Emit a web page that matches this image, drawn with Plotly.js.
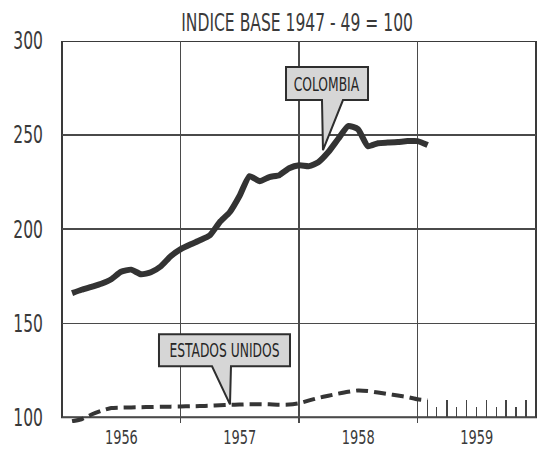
<!DOCTYPE html>
<html>
<head>
<meta charset="utf-8">
<script src="https://cdn.plot.ly/plotly-3.0.1.min.js"></script>
<style>html,body{margin:0;padding:0;background:#fff;}#chart{width:540px;height:452px;}</style>
</head>
<body>
<div id="chart"></div>
<script>
// Monthly observations (first of month), Feb 1956 - Feb 1959
const months = [
  '1956-02-01','1956-03-01','1956-04-01','1956-05-01','1956-06-01','1956-07-01','1956-08-01','1956-09-01','1956-10-01','1956-11-01','1956-12-01',
  '1957-01-01','1957-02-01','1957-03-01','1957-04-01','1957-05-01','1957-06-01','1957-07-01','1957-08-01','1957-09-01','1957-10-01','1957-11-01','1957-12-01',
  '1958-01-01','1958-02-01','1958-03-01','1958-04-01','1958-05-01','1958-06-01','1958-07-01','1958-08-01','1958-09-01','1958-10-01','1958-11-01','1958-12-01',
  '1959-01-01','1959-02-01'
];
const colombia = [166.0,167.8,169.4,171.0,173.4,177.4,178.5,176.0,177.1,180.3,185.6,
  189.4,192.0,194.1,196.8,203.7,209.0,217.6,228.2,225.5,227.7,228.7,232.4,
  234.0,233.5,235.6,241.0,247.9,254.8,253.2,244.1,245.7,246.0,246.3,246.8,
  246.8,244.7];
const estadosUnidos = [97.9,99.0,101.5,103.5,105.0,105.2,105.3,105.4,105.5,105.6,105.7,
  105.8,105.9,106.0,106.2,106.4,106.6,106.8,107.0,107.0,106.9,106.7,106.8,
  107.5,109.0,110.3,111.5,112.6,113.6,114.3,114.0,113.2,112.4,111.6,110.8,
  109.6,109.0];
const seriesNames = ['COLOMBIA','ESTADOS UNIDOS'];
const yearStarts = ['1956-01-01','1957-01-01','1958-01-01','1959-01-01','1960-01-01'];
const yearMids = ['1956-07-02','1957-07-02','1958-07-02','1959-07-02'];
const yearLabels = ['1956','1957','1958','1959'];
const yTicks = [100,150,200,250,300];
const yTickLabels = ['100','150','200','250','300'];
const ticks1959Long = ['1959-02-01','1959-04-01','1959-06-01','1959-08-01','1959-10-01','1959-12-01'];
const ticks1959Short = ['1959-03-01','1959-05-01','1959-07-01','1959-09-01','1959-11-01'];
const titleText = 'INDICE BASE 1947 - 49 = 100';

const FONT = '"DejaVu Sans Condensed", "DejaVu Sans", sans-serif';
const INK = '#3a3a3a';
const yRange = [97, 300];
const xRange = [yearStarts[0], yearStarts[yearStarts.length - 1]];
const basePos = (yTicks[0] - yRange[0]) / (yRange[1] - yRange[0]);

const traces = [
  {x: months, y: colombia, name: seriesNames[0], type: 'scatter', mode: 'lines',
   line: {color: '#333333', width: 6, shape: 'spline', smoothing: 0.5}, hoverinfo: 'skip'},
  {x: months, y: estadosUnidos, name: seriesNames[1], type: 'scatter', mode: 'lines',
   line: {color: '#353535', width: 4, dash: '12px,6px', shape: 'spline', smoothing: 0.5}, hoverinfo: 'skip'},
  {x: ticks1959Long, y: ticks1959Long.map(() => null), xaxis: 'x2', yaxis: 'y', type: 'scatter', mode: 'lines', showlegend: false, hoverinfo: 'skip'}
];

const layout = {
  width: 540, height: 452,
  margin: {l: 62, r: 4, t: 41, b: 29.4},
  paper_bgcolor: '#ffffff', plot_bgcolor: '#ffffff',
  showlegend: false,
  font: {family: FONT, color: INK},
  title: {text: titleText, font: {family: FONT, size: 24, color: INK},
          x: 0.496, xref: 'paper', xanchor: 'center', y: 1 - 23 / 452, yref: 'container', yanchor: 'middle'},
  xaxis: {type: 'date', range: xRange, tickmode: 'array', tickvals: yearMids, ticktext: yearLabels,
          showgrid: false, ticks: '', showline: false, zeroline: false,
          minor: {tickmode: 'array', tickvals: yearStarts, showgrid: true, gridcolor: '#4a4a4a', gridwidth: 1.5, ticks: ''},
          tickfont: {family: FONT, size: 20, color: INK}},
  xaxis2: {type: 'date', range: xRange, overlaying: 'x', anchor: 'free', position: basePos, side: 'bottom',
           tickmode: 'array', tickvals: ticks1959Long, ticks: 'inside', ticklen: 17, tickwidth: 1.5, tickcolor: '#444',
           showticklabels: false, showgrid: false, zeroline: false, showline: false,
           minor: {tickmode: 'array', tickvals: ticks1959Short, ticks: 'inside', ticklen: 10, tickwidth: 1.5, tickcolor: '#444', showgrid: false}},
  yaxis: {range: yRange, tickmode: 'array', tickvals: yTicks, ticktext: yTickLabels,
          showgrid: true, gridcolor: '#4a4a4a', gridwidth: 1.5, ticks: '', ticklabelstandoff: 18,
          showline: false, zeroline: false, tickfont: {family: FONT, size: 24, color: INK}},
  shapes: [
    {type: 'rect', xref: 'paper', yref: 'y', x0: 0, x1: 1, y0: yTicks[0], y1: yTicks[yTicks.length - 1],
     line: {color: INK, width: 2}, fillcolor: 'rgba(0,0,0,0)', layer: 'between'},
    {type: 'path', xref: 'paper', yref: 'y', layer: 'above',
     path: 'M 0.4726,286.2 L 0.6456,286.2 L 0.6456,268.6 L 0.5928,268.6 L 0.5506,242 L 0.5485,268.6 L 0.4726,268.6 Z',
     fillcolor: '#d6d6d6', line: {color: '#2e2e2e', width: 2}},
    {type: 'path', xref: 'paper', yref: 'y', layer: 'above',
     path: 'M 0.2046,144.1 L 0.481,144.1 L 0.481,127.1 L 0.3565,127.1 L 0.3544,106.9 L 0.3165,127.1 L 0.2046,127.1 Z',
     fillcolor: '#d6d6d6', line: {color: '#2e2e2e', width: 2}}
  ],
  annotations: [
    {text: seriesNames[0], xref: 'paper', yref: 'y', x: 0.559, y: 277.4, showarrow: false,
     xanchor: 'center', yanchor: 'middle', font: {family: FONT, size: 19, color: '#262626'}},
    {text: seriesNames[1], xref: 'paper', yref: 'y', x: 0.343, y: 135.6, showarrow: false,
     xanchor: 'center', yanchor: 'middle', font: {family: FONT, size: 19, color: '#262626'}}
  ]
};

Plotly.newPlot('chart', traces, layout, {displayModeBar: false, staticPlot: true}).then(function (gd) {
  // condense glyphs horizontally to mimic the narrow lettering of the original
  var factor = 0.72;
  gd.querySelectorAll('svg text').forEach(function (t) {
    if (!t.textContent.trim()) return;
    var w = t.getComputedTextLength();
    if (w > 0) {
      t.setAttribute('textLength', (w * factor).toFixed(2));
      t.setAttribute('lengthAdjust', 'spacingAndGlyphs');
    }
  });
});
</script>
</body>
</html>
